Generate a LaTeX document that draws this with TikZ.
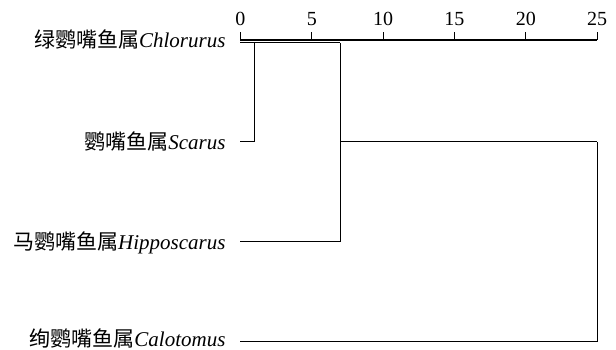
\documentclass[tikz,border=0pt]{standalone}
\usepackage{fontspec}
\setmainfont{Liberation Serif}
\newfontfamily\cjk{Noto Sans CJK SC}
\begin{document}
\begin{tikzpicture}[x=1pt,y=-1pt,
  branch/.style={line width=1.1pt, line join=miter},
  axisline/.style={line width=1.1pt},
  leaflabel/.style={anchor=base east, inner sep=0pt, font=\fontsize{21}{25}\selectfont},
  ticklabel/.style={anchor=base, inner sep=0pt, font=\fontsize{20}{24}\selectfont}]
\useasboundingbox (0,0) rectangle (616,350);
% distance scale: x = 240.4 + 14.27 * value
\def\xa{240.4}\def\xu{14.27}
% axis with ticks
\coordinate (a0) at (\xa,40);
\coordinate (a25) at ({\xa+25*\xu},40);
\draw[axisline] (a0) -- (a25);
\foreach \v in {0,5,10,15,20,25}{
  \draw[axisline] ({\xa+\v*\xu},40) -- ({\xa+\v*\xu},32);
  \node[ticklabel] (t\v) at ({\xa+\v*\xu},25.5) {\v};
}
% leaves
\coordinate (c1) at (\xa,42.8);
\coordinate (c2) at (\xa,141.7);
\coordinate (c3) at (\xa,241.7);
\coordinate (c4) at (\xa,341.7);
\node[leaflabel] (n1) at (225.7,47.8) {{\cjk 绿鹦嘴鱼属}\textit{Chlorurus}};
\node[leaflabel] (n2) at (225.7,149.7) {{\cjk 鹦嘴鱼属}\textit{Scarus}};
\node[leaflabel] (n3) at (225.7,249.3) {{\cjk 马鹦嘴鱼属}\textit{Hipposcarus}};
\node[leaflabel] (n4) at (225.7,346.3) {{\cjk 绚鹦嘴鱼属}\textit{Calotomus}};
% joins
\coordinate (j1) at ({\xa+1.0*\xu},42.8);
\coordinate (j2) at ({\xa+7*\xu},42.8);
\coordinate (m2) at ({\xa+7*\xu},141.7);
\coordinate (j3) at ({\xa+25*\xu},141.7);
\draw[branch] (c2) -| (j1);
\draw[branch] (c1) -- (j2);
\draw[branch] (c3) -| (j2);
\draw[branch] (m2) -- (j3);
\draw[branch] (c4) -| (j3);
\end{tikzpicture}
\end{document}
